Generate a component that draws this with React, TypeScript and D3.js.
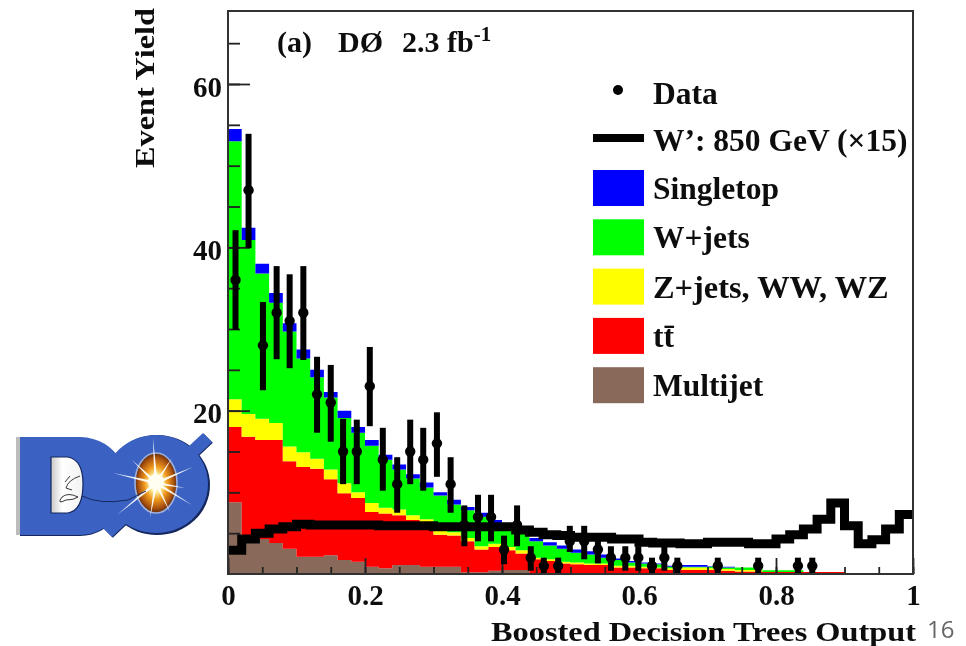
import { useEffect, useRef } from "react";
import * as d3 from "d3";

const width = 966;
const height = 646;

const binCount = 50;
// per bin yields
const multijet = [8.8,3.8,4.3,3.8,3.1,2.1,2.1,2.3,1.7,1.5,0.9,0.7,1.1,1.1,0.9,0.9,0.9,0.2,0.2,0.4,0.5,0.5,0.1,0.1,0.1,0.1,0.1,0.1,0.1,0.1,0.1,0.1,0.1,0,0,0,0,0,0,0,0,0,0,0,0,0,0,0,0,0];
const ttbar = [9.2,13,12.1,12.6,10.7,11,10.8,9.3,8.2,7.8,6.7,6.7,6.1,5.5,5.4,3.9,3.8,3.8,2.8,2.9,2.4,2,1.7,1.5,1.2,1.1,1,1,0.7,0.7,0.6,0.6,0.4,0.5,0.5,0.5,0.4,0.3,0.3,0.25,0.25,0.25,0.25,0.25,0.25,0,0,0,0,0];
const zjets = [3.4,2.8,2.6,2.1,1.8,1.8,1.2,1.2,1.2,0.7,1.1,0.7,0.7,0.6,0.4,0.5,0.4,0.4,0.4,0.4,0.4,0.4,0.2,0.2,0.2,0.2,0.2,0.2,0.2,0.2,0.2,0.1,0.2,0.3,0.3,0.2,0.2,0.2,0.2,0,0,0,0,0,0,0,0,0,0,0];
const wjets = [31.6,21.3,17.8,14.7,14.1,11.5,10,8.8,8,7.3,7,5.9,4.9,4.5,3.9,4.3,3.4,3.4,3.6,2.4,2.2,2.1,2,1.7,1.6,1.2,1.1,0.7,0.7,0.4,0.4,0.4,0.2,0.1,0.1,0.2,0.2,0.3,0.3,0.2,0.2,0.2,0,0,0,0,0,0,0,0];
const singletop = [1.5,1.5,1.2,1.2,1,1.1,0.9,0.7,0.9,0.7,0.7,0.6,0.6,0.5,0.6,0.4,0.6,0.4,0.5,0.5,0.5,0.5,0.4,0.4,0.4,0.4,0.4,0.4,0.2,0.2,0.1,0.1,0.1,0.2,0.2,0.05,0.1,0,0,0,0,0,0,0,0,0,0,0,0,0];
const signal = [2.9,4.3,5,5.5,5.8,6.1,6,6,6,6,6,5.9,5.9,5.9,5.9,5.8,5.8,5.8,5.8,5.8,5.8,5.4,5.1,4.8,4.7,4.5,4.5,4.5,4.3,4.3,3.9,3.8,3.8,3.7,3.7,3.9,3.9,3.9,3.7,3.7,4.3,4.8,5.5,6.7,8.7,5.9,3.7,4.2,5.5,7.3];

const dataX = [0.011,0.03,0.051,0.071,0.09,0.11,0.13,0.15,0.168,0.188,0.207,0.226,0.247,0.266,0.285,0.305,0.325,0.345,0.365,0.384,0.403,0.422,0.442,0.461,0.482,0.499,0.52,0.54,0.559,0.58,0.599,0.619,0.637,0.656,0.715,0.774,0.832,0.853];
const dataY = [36,47,28,32,31,32,22,21,15,15,23,14,11,15,14,16,11,6,7,7,3,6,2,1,1,4,4,3,2,2,2,1,2,1,1,1,1,1];
const dataHigh = [42.1,53.9,33.3,37.7,36.7,37.7,26.6,25.6,19,18.9,27.8,17.9,14.3,18.9,17.9,19.8,14.3,8.4,9.7,9.7,4.7,8.4,3.4,2,2,5.9,5.9,4.7,3.4,3.4,3.4,2,3.4,2,2,2,2,2];
const dataLow = [29.9,39.9,22.5,26.3,25.2,26.2,17.3,16.2,11,11,18.1,10.2,7.5,11,10.2,11.9,7.5,3.4,4,4,1.2,3.4,0.4,0,0,2.7,1.8,1.3,0.4,0.4,0.4,0,0.4,0,0,0,0,0];

const stackKeys = ["multijet", "ttbar", "zjets", "wjets", "singletop"];
const stackColors = ["#896a5a", "#ff0000", "#ffff00", "#00ff00", "#0000ff"];
const legendLabels = ["Singletop", "W+jets", "Z+jets, WW, WZ", "tt̄", "Multijet"];
const legendColors = ["#0000ff", "#00ff00", "#ffff00", "#ff0000", "#896a5a"];

const xMajor = [0, 0.2, 0.4, 0.6, 0.8, 1];
const xMinor = d3.range(0, 21).map(d => d / 20);
const yMajor = [20, 40, 60];
const yMinor = [5, 10, 15, 20, 25, 30, 35, 40, 45, 50, 55, 60, 65];

const serif = "'Liberation Serif', serif";

const x = d3.scaleLinear([0, 1], [228, 913]);
const y = d3.scaleLinear([0, 60], [574, 84]);

function Logo() {
  const blue = "#3a62c2";
  const dark = "#14285e";
  const dShape = "M20 437H80Q108 438 122 462L122 510Q104 535 80 535H20Z";
  const slash = "M203 433L212 442L112 537L102 527Z";
  // star rays as tips around the flash
  const rays = [[113, 473], [193, 467], [153, 438], [150, 518], [117, 515], [192, 505], [185, 488], [172, 458], [132, 460], [170, 512]];
  const cx = 156;
  const cy = 483;
  return (
    <g>
      <defs>
        <radialGradient id="flash">
          <stop offset="0" stopColor="#ffffff" />
          <stop offset="0.3" stopColor="#fff0a0" />
          <stop offset="0.55" stopColor="#ef9a1e" />
          <stop offset="0.85" stopColor="#a8500e" />
          <stop offset="1" stopColor="#5e2c10" />
        </radialGradient>
        <linearGradient id="counter" x1="0" x2="1">
          <stop offset="0" stopColor="#c8c8c8" />
          <stop offset="0.35" stopColor="#ffffff" />
          <stop offset="1" stopColor="#f2f2f2" />
        </linearGradient>
      </defs>
      <path d={dShape} fill="#bcbcbc" transform="translate(-4,0)" />
      <ellipse cx={157} cy={485} rx={53} ry={50} fill={dark} />
      <path d={slash} fill={dark} transform="translate(0.8,0.8)" />
      <path d={dShape} fill={dark} transform="translate(0,1)" />
      <path d={dShape} fill={blue} />
      <ellipse cx={156} cy={484} rx={52} ry={49} fill={blue} />
      <path d={slash} fill={blue} />
      <path d="M51 457H68Q83 460 83 484Q83 510 68 513H51Z" fill="url(#counter)" stroke={dark} strokeWidth="1.2" />
      <ellipse cx={cx} cy={cy} rx={21} ry={30} fill="url(#flash)" stroke="#9fb0dc" strokeWidth="1.6" />
      {rays.map(([tx, ty], i) => {
        const a = Math.atan2(ty - cy, tx - cx) + Math.PI / 2;
        const w = 1.6;
        return (
          <path
            key={i}
            d={`M${cx + Math.cos(a) * w} ${cy + Math.sin(a) * w}L${tx} ${ty}L${cx - Math.cos(a) * w} ${cy - Math.sin(a) * w}Z`}
            fill="#fff"
            opacity={0.92}
          />
        );
      })}
      <circle cx={cx} cy={cy - 1} r={8} fill="#fffef0" />
      <path d="M82 496Q100 505 128 500L146 491" fill="none" stroke={dark} strokeWidth="1" />
      <path d="M80 476Q68 480 66 488L72 490M65 482L70 476M78 497Q68 492 62 497Q56 505 66 500Q74 500 78 497" fill="none" stroke="#222" strokeWidth="0.9" />
    </g>
  );
}

export default function App() {
  const axes = useRef<SVGGElement>(null);

  const rows = d3.range(binCount + 1).map(i => {
    const k = Math.min(i, binCount - 1);
    return { edge: i / binCount, multijet: multijet[k], ttbar: ttbar[k], zjets: zjets[k], wjets: wjets[k], singletop: singletop[k] };
  });
  const layers = d3.stack<any>().keys(stackKeys)(rows);
  const area = d3.area<any>()
    .curve(d3.curveStepAfter)
    .x(d => x(d.data.edge))
    .y0(d => y(d[0]))
    .y1(d => y(d[1]));
  const signalLine = d3.line<number>()
    .curve(d3.curveStepAfter)
    .x((_, i) => x(i / binCount))
    .y(d => y(d));

  useEffect(() => {
    const g = d3.select(axes.current);
    g.selectAll("*").remove();
    g.append("g").attr("transform", "translate(228,0)")
      .call(d3.axisLeft(y).tickValues(yMinor).tickSize(-12).tickFormat(() => ""));
    const yLabels = g.append("g").attr("transform", "translate(228,0)")
      .call(d3.axisLeft(y).tickValues(yMajor).tickSize(-22).tickPadding(6).tickFormat(d3.format("d")));
    g.append("g").attr("transform", "translate(0,574)")
      .call(d3.axisBottom(x).tickValues(xMinor).tickSize(-7).tickFormat(() => ""));
    g.append("g").attr("transform", "translate(0,574)")
      .call(d3.axisBottom(x).tickValues(xMajor).tickSize(-16).tickPadding(10).tickFormat(d => (d === 0 || d === 1 ? String(d) : d3.format(".1f")(d as number))));
    g.selectAll(".domain").remove();
    g.selectAll("line").attr("stroke", "#222").attr("stroke-width", 1.8);
    g.selectAll("text").attr("font-family", serif).attr("font-weight", "bold").attr("font-size", 29).attr("fill", "#111");
    yLabels.selectAll("text").attr("dy", "0.42em");
  }, []);

  return (
    <svg width={width} height={height} style={{ position: "absolute", left: 0, top: 0, background: "#fff" }}>
      <defs>
        <filter id="soft" x="-5%" y="-5%" width="110%" height="110%">
          <feGaussianBlur stdDeviation="0.55" />
        </filter>
      </defs>
      <g filter="url(#soft)">
        {layers.map((l, i) => (
          <path key={l.key} d={area(l) as string} fill={stackColors[i]} />
        ))}
        <g ref={axes} />
        <path d={signalLine([...signal, signal[binCount - 1]]) as string} fill="none" stroke="#000" strokeWidth={9} />
        {dataX.map((d, i) => (
          <g key={i}>
            <line x1={x(d)} x2={x(d)} y1={y(dataLow[i])} y2={y(dataHigh[i])} stroke="#000" strokeWidth={6} />
            <circle cx={x(d)} cy={y(dataY[i])} r={5.2} fill="#000" />
          </g>
        ))}
        <rect x={228} y={11} width={685} height={563} fill="none" stroke="#333" strokeWidth={2} />

        <text y={52} fontFamily={serif} fontWeight="bold" fontSize={30} fill="#111">
          <tspan x={277}>(a)</tspan>
          <tspan x={338}>DØ</tspan>
          <tspan x={402}>2.3 fb</tspan>
          <tspan dy={-11} fontSize={21}>-1</tspan>
        </text>

        <circle cx={618} cy={90} r={5} fill="#000" />
        <text x={653} y={104} fontFamily={serif} fontWeight="bold" fontSize={31.5} fill="#111">Data</text>
        <line x1={593} x2={644} y1={138} y2={138} stroke="#000" strokeWidth={8} />
        <text x={653} y={151} fontFamily={serif} fontWeight="bold" fontSize={31.5} fill="#111">W’: 850 GeV (×15)</text>
        {legendLabels.map((label, i) => (
          <g key={label}>
            <rect x={593} y={170 + i * 49.3} width={51} height={36} fill={legendColors[i]} />
            <text x={653} y={199 + i * 49.3} fontFamily={serif} fontWeight="bold" fontSize={i === 2 ? 32.4 : 31.5} fill="#111">{label}</text>
          </g>
        ))}

        <text transform="translate(154,168) rotate(-90)" fontFamily={serif} fontWeight="bold" fontSize={28} fill="#111" textLength={160} lengthAdjust="spacingAndGlyphs">Event Yield</text>
        <text x={491} y={641} fontFamily={serif} fontWeight="bold" fontSize={28} fill="#111" textLength={425} lengthAdjust="spacingAndGlyphs">Boosted Decision Trees Output</text>
        <Logo />
      </g>
      <text x={927} y={638} fontFamily="'Open Sans', sans-serif" fontSize={24} fill="#666">16</text>
    </svg>
  );
}
